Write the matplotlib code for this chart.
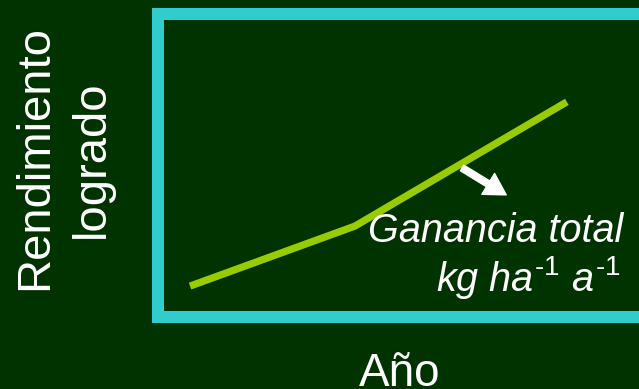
import matplotlib
matplotlib.use("Agg")
import matplotlib.pyplot as plt

plt.rcParams['font.family'] = ['Liberation Sans', 'DejaVu Sans']
plt.rcParams['mathtext.fontset'] = 'custom'
plt.rcParams['mathtext.rm'] = 'Liberation Sans'
plt.rcParams['mathtext.it'] = 'Liberation Sans:italic'

# Data (abstract units)
anio = [6.6, 40.6, 84.3]
rendimiento = [10.2, 30.0, 71.0]
flecha_origen = (62.7, 49.2)
flecha_destino = (71.8, 40.3)

x_label = "Año"
y_label_1 = "Rendimiento"
y_label_2 = "logrado"
anotacion_1 = "Ganancia total"
anotacion_2 = "$\\mathit{kg\\ ha^{\u20101}\\ a^{\u20101}}$"

BG = "#003300"
FRAME = "#33CCCC"
LINE = "#99CC00"

W, H = 639, 389
fig = plt.figure(figsize=(W / 100, H / 100), dpi=100, facecolor=BG)
ax = fig.add_axes([158 / W, (H - 317) / H, (643 - 158) / W, (317 - 14) / H])
ax.set_facecolor(BG)
for s in ax.spines.values():
    s.set_color(FRAME)
    s.set_linewidth(12 * 72 / 100)
    s.set_capstyle('projecting')
ax.set_xlim(0, 100)
ax.set_ylim(0, 100)
ax.set_xticks([])
ax.set_yticks([])

ax.plot(anio, rendimiento, color=LINE, linewidth=5.2, solid_capstyle='butt',
        solid_joinstyle='miter')

ax.annotate('', xy=flecha_destino, xytext=flecha_origen,
            arrowprops=dict(arrowstyle='simple,head_length=0.95,head_width=1.1,tail_width=0.3',
                            color='white', shrinkA=0, shrinkB=0, mutation_scale=16))

fig.text(623 / W, (H - 242) / H, anotacion_1, color='white', fontsize=28.5,
         fontstyle='italic', ha='right', va='baseline')
fig.text(621 / W, (H - 291) / H, anotacion_2, color='white', fontsize=28.5,
         ha='right', va='baseline')

fig.text(47 / W, (H - 157) / H, y_label_1, color='white', fontsize=34, rotation=90,
         rotation_mode='anchor', ha='center', va='baseline')
fig.text(104 / W, (H - 159) / H, y_label_2, color='white', fontsize=34, rotation=90,
         rotation_mode='anchor', ha='center', va='baseline')
fig.text(400 / W, (H - 386) / H, x_label, color='white', fontsize=33,
         ha='center', va='baseline')

fig.savefig("out.png", dpi=100, facecolor=BG)
